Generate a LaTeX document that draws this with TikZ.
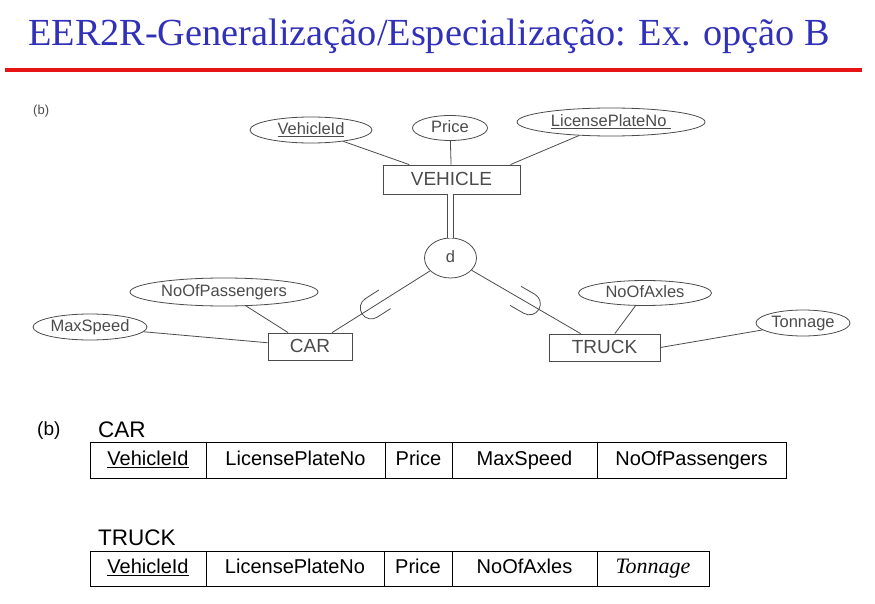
\documentclass[tikz,border=0pt]{standalone}
\usepackage{fontspec}
\setmainfont{Liberation Serif}
\setsansfont{Liberation Sans}
\usetikzlibrary{shapes.geometric,positioning}

\definecolor{titleblue}{RGB}{48,48,185}
\definecolor{rulered}{RGB}{230,20,20}
\definecolor{ergray}{RGB}{75,75,75}

\tikzset{
  attr/.style={draw=ergray, ellipse, inner sep=0pt, line width=0.8pt, text=ergray, text height=12pt, text depth=3.5pt, font=\sffamily\fontsize{16.5}{18}\selectfont},
  entity/.style={draw=ergray, rectangle, inner sep=0pt, line width=0.8pt, text=ergray, text height=13.5pt, text depth=1pt, font=\sffamily\fontsize{19}{21}\selectfont},
  erline/.style={draw=ergray, line width=0.8pt},
  cell/.style={draw, rectangle, inner sep=0pt, outer sep=0pt, line width=1pt, text height=14.5pt, text depth=4pt, font=\sffamily\fontsize{20}{22}\selectfont},
  tlabel/.style={anchor=base west, inner sep=0pt, font=\sffamily\fontsize{22.5}{24}\selectfont},
}

% subset mark: position, angle pointing to the circle
\newcommand{\subsetmark}[2]{%
  \draw[erline, shift={(#1)}, rotate=#2] (16,11) -- (0,11) arc[start angle=90, end angle=270, radius=11] -- (16,-11);}

\begin{document}
\begin{tikzpicture}[x=1pt, y=-1pt]
  \useasboundingbox (0,0) rectangle (875,604);

  % title
  \node[anchor=base west, inner sep=0pt, text=titleblue, font=\fontsize{38.3}{44}\selectfont] (title) at (28,46) {EER2R-Generalização/Especialização: Ex. opção B};
  \draw[rulered, line width=3.5pt] (5,70) -- (862,70);

  % EER diagram
  \node[anchor=base west, inner sep=0pt, text=ergray, font=\sffamily\fontsize{13}{14}\selectfont] (tagtop) at (33,115) {(b)};
  \node[attr, minimum width=122pt, minimum height=26pt] (vid) at (311,130) {\underline{VehicleId}};
  \node[attr, minimum width=75pt, minimum height=25pt] (price) at (450,128) {Price};
  \node[attr, minimum width=188pt, minimum height=28pt] (lpn) at (611,122) {\underline{LicensePlateNo\ }};
  \node[entity, minimum width=137pt, minimum height=29pt] (vehicle) at (451.5,179.5) {VEHICLE};
  \node[attr, minimum width=52pt, minimum height=40pt] (d) at (450.5,258) {d};
  \node[attr, minimum width=188pt, minimum height=28pt] (nop) at (224,292) {NoOfPassengers};
  \node[attr, minimum width=114pt, minimum height=26pt] (maxsp) at (90,327) {MaxSpeed};
  \node[entity, minimum width=84pt, minimum height=27pt] (car) at (310,346.5) {CAR};
  \node[entity, minimum width=111pt, minimum height=27pt] (truck) at (604.5,347.5) {TRUCK};
  \node[attr, minimum width=133pt, minimum height=25pt] (noa) at (645,293) {NoOfAxles};
  \node[attr, minimum width=94pt, minimum height=26pt] (ton) at (803,323) {Tonnage};

  \draw[erline] (vid) -- (vehicle);
  \draw[erline] (price) -- (vehicle);
  \draw[erline] (lpn) -- ([xshift=-10pt]vehicle.north east);
  \draw[erline, double, double distance=5pt] (vehicle.south -| d) -- (d);
  \draw[erline] (d) -- (car) coordinate[pos=0.6] (carsub);
  \draw[erline] (d) -- (truck) coordinate[pos=0.53] (trucksub);
  \draw[erline] (nop) -- (car);
  \draw[erline] (maxsp) -- (car);
  \draw[erline] (noa) -- (truck);
  \draw[erline] (ton) -- (truck.east);
  \subsetmark{carsub}{32.5}
  \subsetmark{trucksub}{150}

  % relations
  \node[anchor=base west, inner sep=0pt, font=\sffamily\fontsize{19}{21}\selectfont] (tagbot) at (37,435) {(b)};
  \node[tlabel] (carlbl) at (98,437) {CAR};
  \node[cell, minimum width=116pt, minimum height=36pt, anchor=west] (c1) at (90,460) {\underline{VehicleId}};
  \node[cell, minimum width=179pt, minimum height=36pt, right=0pt of c1] (c2) {LicensePlateNo};
  \node[cell, minimum width=67pt, minimum height=36pt, right=0pt of c2] (c3) {Price};
  \node[cell, minimum width=145pt, minimum height=36pt, right=0pt of c3] (c4) {MaxSpeed};
  \node[cell, minimum width=189pt, minimum height=36pt, right=0pt of c4] (c5) {NoOfPassengers};

  \node[tlabel] (trucklbl) at (98,545) {TRUCK};
  \node[cell, minimum width=116pt, minimum height=35pt, anchor=west] (t1) at (90,568.5) {\underline{VehicleId}};
  \node[cell, minimum width=178pt, minimum height=35pt, right=0pt of t1] (t2) {LicensePlateNo};
  \node[cell, minimum width=68pt, minimum height=35pt, right=0pt of t2] (t3) {Price};
  \node[cell, minimum width=145pt, minimum height=35pt, right=0pt of t3] (t4) {NoOfAxles};
  \node[cell, minimum width=112pt, minimum height=35pt, right=0pt of t4, font=\rmfamily\itshape\fontsize{22}{24}\selectfont] (t5) {Tonnage};
\end{tikzpicture}
\end{document}
